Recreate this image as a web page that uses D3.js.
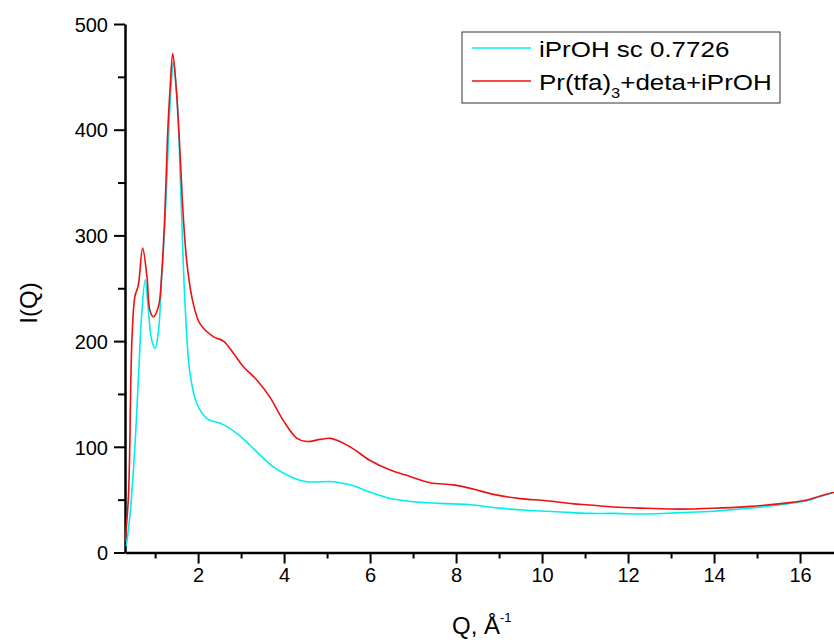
<!DOCTYPE html>
<html>
<head>
<meta charset="utf-8">
<script src="https://cdn.jsdelivr.net/npm/d3@7"></script>
<style>
  body { margin: 0; background: #fff; }
  text { font-family: Arial, "Liberation Sans", sans-serif; fill: #000; }
</style>
</head>
<body>
<div class="chart"></div>
<script>
// values
var qSolvent = [0.33, 0.42, 0.53, 0.61, 0.69, 0.77, 0.85, 0.92, 1.0, 1.08, 1.15, 1.23, 1.30, 1.37, 1.43, 1.49,
  1.54, 1.58, 1.62, 1.70, 1.81, 1.97, 2.20, 2.59, 2.98, 3.37, 3.75, 4.14, 4.53, 5.15, 5.53, 6.08, 6.47,
  7.0, 7.63, 8.4, 9.02, 9.64, 10.34, 11.1, 11.66, 12.43, 13.2, 13.98, 14.76, 15.5, 16.16, 16.47, 16.79];
var iSolvent = [6, 37, 100, 163, 226, 258, 226, 201, 193, 210, 258, 312, 380, 440, 465, 440,
  409, 360, 315, 232, 170, 141, 127, 121, 110, 95, 81, 72, 67, 67, 64, 56, 51,
  48, 46.5, 45, 42, 40, 38.6, 37, 37, 36.4, 37.7, 39, 41.8, 45, 49, 53, 57];

var qComplex = [0.30, 0.38, 0.46, 0.53, 0.61, 0.71, 0.81, 0.88, 0.96, 1.08, 1.15, 1.23, 1.29, 1.35, 1.41, 1.49,
  1.58, 1.66, 1.75, 1.89, 2.05, 2.36, 2.59, 2.83, 3.05, 3.37, 3.67, 3.98, 4.30, 4.53, 4.84, 5.07, 5.30,
  5.61, 6.0, 6.47, 6.85, 7.40, 7.94, 8.40, 8.87, 9.49, 10.1, 10.73, 11.1, 11.66, 12.43, 13.2, 13.98,
  14.76, 15.5, 16.16, 16.47, 16.79];
var iComplex = [10, 53, 200, 242, 253, 288, 261, 229, 223, 233, 261, 324, 395, 440, 472, 440,
  378, 315, 270, 235, 216, 204, 200, 188, 176, 163, 147, 125, 108, 105, 107, 108, 105,
  98, 87, 78, 73, 66, 64, 60, 55, 51, 49, 46, 45, 43, 41.8, 41, 41.8,
  43.4, 46, 49.7, 53.5, 57];

var seriesNames = ["iPrOH sc 0.7726", "Pr(tfa)3+deta+iPrOH"];
var seriesColors = ["#00eeee", "#ee1111"];
var xTicks = [2, 4, 6, 8, 10, 12, 14, 16];
var yTicks = [0, 100, 200, 300, 400, 500];

var svgWidth = 834, svgHeight = 640;
var margin = { top: 24, right: 0, bottom: 88, left: 125 };
var chartWidth = svgWidth - margin.left - margin.right;
var chartHeight = 552.5 - margin.top;

var svg = d3.select(".chart").append("svg")
  .attr("width", svgWidth)
  .attr("height", svgHeight);

var chartGroup = svg.append("g")
  .attr("transform", `translate(${margin.left}, ${margin.top})`);

var xScale = d3.scaleLinear().domain([0.3, 16.79]).range([0, chartWidth]);
var yScale = d3.scaleLinear().domain([0, 500]).range([chartHeight, 0]);

// minor ticks first
chartGroup.append("g")
  .attr("transform", `translate(0, ${chartHeight})`)
  .call(d3.axisBottom(xScale).tickValues([1, 3, 5, 7, 9, 11, 13, 15]).tickSize(6).tickFormat(""))
  .call(g => g.select(".domain").remove())
  .call(g => g.selectAll("line").attr("stroke-width", 2));
chartGroup.append("g")
  .call(d3.axisLeft(yScale).tickValues([50, 150, 250, 350, 450]).tickSize(7).tickFormat(""))
  .call(g => g.select(".domain").remove())
  .call(g => g.selectAll("line").attr("stroke-width", 2));

var xAxis = chartGroup.append("g")
  .attr("transform", `translate(0, ${chartHeight})`)
  .call(d3.axisBottom(xScale).tickValues(xTicks).tickSize(11).tickSizeOuter(0).tickPadding(4));
var yAxis = chartGroup.append("g")
  .call(d3.axisLeft(yScale).tickValues(yTicks).tickSize(11).tickSizeOuter(0).tickPadding(6));

[xAxis, yAxis].forEach(function (a) {
  a.select(".domain").attr("stroke-width", 2.5);
  a.selectAll(".tick line").attr("stroke-width", 2);
  a.selectAll(".tick text").style("font-size", "20px").attr("font-family", "Arial, 'Liberation Sans', sans-serif");
});
yAxis.selectAll(".tick text").attr("dy", "0.36em");

// lines
var line = d3.line()
  .x(d => xScale(d[0]))
  .y(d => yScale(d[1]))
  .curve(d3.curveCatmullRom.alpha(0.5));

var solvent = qSolvent.map((q, i) => [q, iSolvent[i]]);
var complex = qComplex.map((q, i) => [q, iComplex[i]]);

chartGroup.append("path").datum(solvent)
  .attr("d", line).attr("fill", "none")
  .attr("stroke", seriesColors[0]).attr("stroke-width", 1.6);
chartGroup.append("path").datum(complex)
  .attr("d", line).attr("fill", "none")
  .attr("stroke", seriesColors[1]).attr("stroke-width", 1.6);

// axis labels
svg.append("text")
  .attr("x", 452).attr("y", 634)
  .style("font-size", "24px")
  .text("Q, Å")
  .append("tspan").attr("dy", -12).style("font-size", "13px").text("-1");

svg.append("text")
  .attr("transform", "translate(37, 303) rotate(-90)")
  .attr("text-anchor", "middle")
  .style("font-size", "24px")
  .text("I(Q)");

// legend
var legend = svg.append("g");
legend.append("rect")
  .attr("x", 462).attr("y", 32).attr("width", 318).attr("height", 71)
  .attr("fill", "#fff").attr("stroke", "#333").attr("stroke-width", 1);

legend.append("line").attr("x1", 472).attr("x2", 531).attr("y1", 48).attr("y2", 48)
  .attr("stroke", seriesColors[0]).attr("stroke-width", 1.6);
legend.append("line").attr("x1", 472).attr("x2", 531).attr("y1", 81).attr("y2", 81)
  .attr("stroke", seriesColors[1]).attr("stroke-width", 1.6);

// the legend text in the original is stretched sideways
legend.append("text")
  .attr("transform", "translate(539, 57) scale(1.18, 1)")
  .style("font-size", "22px")
  .text(seriesNames[0]);

var t2 = legend.append("text")
  .attr("transform", "translate(539, 90) scale(1.18, 1)")
  .style("font-size", "22px");
t2.append("tspan").text("Pr(tfa)");
t2.append("tspan").attr("dy", 8).style("font-size", "14px").text("3");
t2.append("tspan").attr("dy", -8).text("+deta+iPrOH");
</script>
</body>
</html>
